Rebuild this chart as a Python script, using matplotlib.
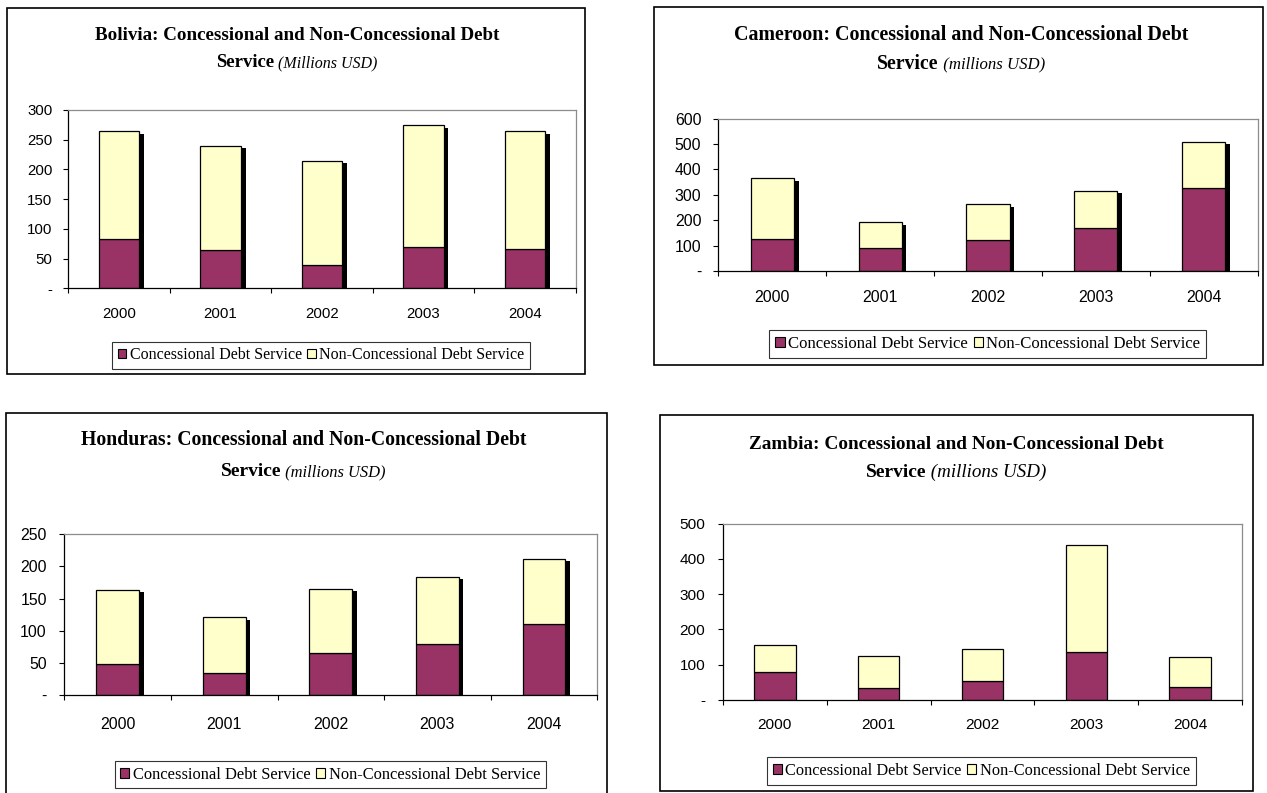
import numpy as np
import matplotlib
matplotlib.use("Agg")
import matplotlib.pyplot as plt
from matplotlib.patches import Rectangle, Patch
from matplotlib.transforms import offset_copy

# ---- data (millions USD) ----
years = ["2000", "2001", "2002", "2003", "2004"]

bolivia_conc = [83, 65, 40, 69, 66]
bolivia_nonconc = [181, 175, 175, 205, 198]
bolivia_yticks = [0, 50, 100, 150, 200, 250, 300]

cameroon_conc = [128, 91, 123, 170, 327]
cameroon_nonconc = [237, 102, 140, 147, 182]
cameroon_yticks = [0, 100, 200, 300, 400, 500, 600]

honduras_conc = [48, 35, 65, 79, 111]
honduras_nonconc = [116, 86, 100, 105, 101]
honduras_yticks = [0, 50, 100, 150, 200, 250]

zambia_conc = [79, 34, 53, 136, 37]
zambia_nonconc = [76, 91, 91, 304, 84]
zambia_yticks = [0, 100, 200, 300, 400, 500]

series_names = ["Concessional Debt Service", "Non-Concessional Debt Service"]

CONC = "#993366"
NONC = "#FFFFCC"
SERIF = "Liberation Serif"
SANS = "Liberation Sans"

W, H = 1267, 793
fig = plt.figure(figsize=(W / 100, H / 100), dpi=100)
fig.patch.set_facecolor("white")
renderer = fig.canvas.get_renderer()


def fx(x):
    return x / W


def fy(y):
    return 1 - y / H


def frame(l, t, r, b):
    fig.add_artist(Rectangle((fx(l), fy(b)), fx(r - l), (b - t) / H,
                             transform=fig.transFigure, fill=False,
                             edgecolor="black", lw=1.2, zorder=0))


def title(cx, y1, y2, name, unit, s1, s2, s3):
    fig.text(fx(cx), fy(y1), f"{name}: Concessional and Non-Concessional Debt",
             ha="center", va="baseline", fontsize=s1, fontweight="bold",
             family=SERIF)
    a = fig.text(0, fy(y2), "Service", ha="left", va="baseline", fontsize=s2,
                 fontweight="bold", family=SERIF)
    b = fig.text(0, fy(y2), " " + unit, ha="left", va="baseline", fontsize=s3,
                 style="italic", family=SERIF)
    wa = a.get_window_extent(renderer).width
    wb = b.get_window_extent(renderer).width
    left = cx - (wa + wb) / 2
    a.set_x(fx(left))
    b.set_x(fx(left + wa))


def panel(l, t, r, b, conc, nonconc, yticks, fs, xpad, ypad, shadow=True):
    ax = fig.add_axes([fx(l), fy(b), fx(r - l), (b - t) / H])
    x = np.arange(len(years))
    width = 0.4
    if shadow:
        total = np.add(conc, nonconc)
        sh = ax.bar(x, total, width, color="black", lw=0, zorder=1)
        tr = offset_copy(ax.transData, fig=fig, x=3.4, y=-1.8, units="points")
        for p in sh:
            p.set_transform(tr)
    ax.bar(x, conc, width, color=CONC, edgecolor="black", lw=0.9, zorder=2)
    ax.bar(x, nonconc, width, bottom=conc, color=NONC, edgecolor="black",
           lw=0.9, zorder=2)
    ax.set_xlim(-0.5, len(years) - 0.5)
    ax.set_ylim(yticks[0], yticks[-1])

    ax.set_xticks(np.arange(-0.5, len(years), 1.0))
    ax.set_xticklabels([])
    ax.set_xticks(x, minor=True)
    ax.set_xticklabels(years, minor=True, fontsize=fs, family=SANS)
    ax.tick_params(axis="x", which="major", length=3.6, width=0.8,
                   direction="out", color="black")
    ax.tick_params(axis="x", which="minor", length=0, pad=xpad)

    ax.set_yticks(yticks)
    ax.set_yticklabels(["-" if v == 0 else str(v) for v in yticks],
                       fontsize=fs, family=SANS)
    ax.tick_params(axis="y", length=3.6, width=0.8, direction="out",
                   pad=ypad, color="black")

    for side in ("top", "right"):
        ax.spines[side].set_color("#8c8c8c")
        ax.spines[side].set_linewidth(0.9)
    for side in ("left", "bottom"):
        ax.spines[side].set_color("black")
        ax.spines[side].set_linewidth(0.9)
    return ax


def legend(cx, cy, fs):
    handles = [Patch(facecolor=CONC, edgecolor="black", lw=0.8),
               Patch(facecolor=NONC, edgecolor="black", lw=0.8)]
    leg = fig.legend(handles, series_names, loc="center",
                     bbox_to_anchor=(fx(cx), fy(cy)), ncol=2,
                     prop={"family": SERIF, "size": fs},
                     frameon=True, fancybox=False, shadow=False,
                     handlelength=0.55, handleheight=0.55,
                     handletextpad=0.2, columnspacing=0.35,
                     borderpad=0.35, borderaxespad=0)
    leg.get_frame().set_edgecolor("black")
    leg.get_frame().set_linewidth(0.8)


# Bolivia
frame(7.3, 7.9, 585, 373.8)
title(297, 39.5, 67, "Bolivia", "(Millions USD)", 13.7, 13.5, 11.5)
panel(68.3, 110, 575.7, 288.3, bolivia_conc, bolivia_nonconc, bolivia_yticks,
      10.8, 13.2, 7.9)
legend(321, 355.2, 11.5)

# Cameroon
frame(654, 7, 1263, 365)
title(961, 40.3, 68.6, "Cameroon", "(millions USD)", 14.4, 14.2, 12.1)
panel(718.3, 118.7, 1257.7, 271, cameroon_conc, cameroon_nonconc,
      cameroon_yticks, 11.4, 13.5, 8.6)
legend(987.8, 344, 12.1)

# Honduras
frame(6, 413.4, 607, 800)
title(303.4, 444.5, 476.3, "Honduras", "(millions USD)", 14.25, 14.0, 11.9)
panel(64.3, 534.3, 597.3, 695, honduras_conc, honduras_nonconc,
      honduras_yticks, 11.4, 15.7, 9.0)
legend(330.2, 774.7, 11.9)

# Zambia
frame(660, 414.6, 1253, 790.8)
title(956.3, 449.4, 477, "Zambia", "(millions USD)", 13.9, 14.0, 13.7)
panel(723, 523.7, 1242, 699.7, zambia_conc, zambia_nonconc, zambia_yticks,
      11.1, 13.0, 9.1, shadow=False)
legend(981.5, 770.8, 11.75)

fig.savefig("out.png", dpi=100)
